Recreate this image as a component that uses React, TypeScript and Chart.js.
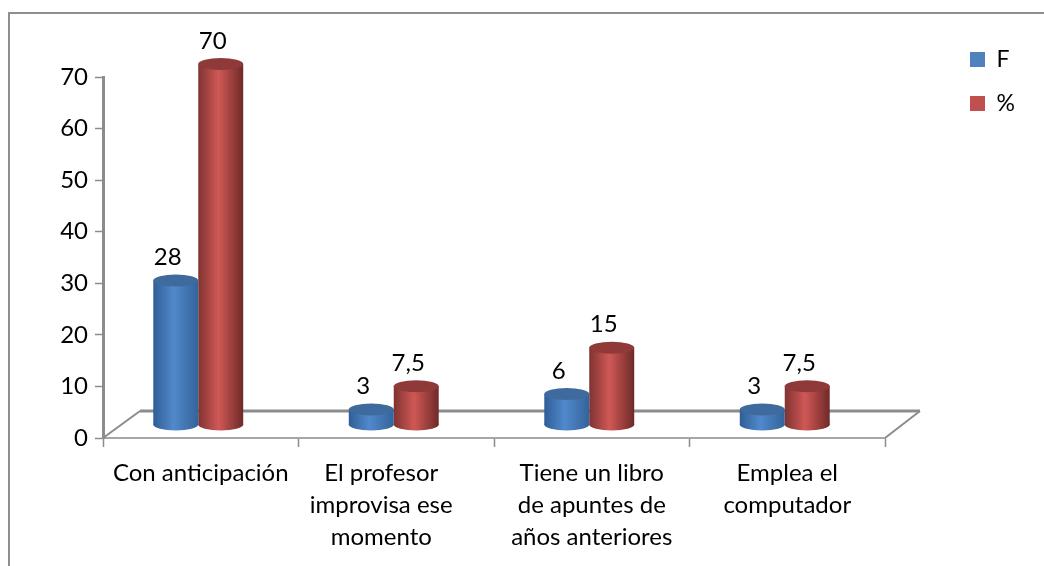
import React, { useEffect, useRef } from "react";
import { Chart, registerables } from "chart.js";

Chart.register(...registerables);

const categories: string[][] = [
  ["Con anticipación"],
  ["El profesor", "improvisa ese", "momento"],
  ["Tiene un libro", "de apuntes de", "años anteriores"],
  ["Emplea el", "computador"],
];
const seriesF: number[] = [28, 3, 6, 3];
const seriesPct: number[] = [70, 7.5, 15, 7.5];
const labelsF: string[] = ["28", "3", "6", "3"];
const labelsPct: string[] = ["70", "7,5", "15", "7,5"];
const yTicks: number[] = [0, 10, 20, 30, 40, 50, 60, 70];

const FONT = "Lato";
const FONT_SIZE = 24;
const LEGEND_FONT_SIZE = 23;
const AXIS = "#8c8c8c";
const PALETTE = [
  { base: "#4f81bd", edgeL: "#2f5e96", mid: "#5189cb", edgeR: "#33639b", cap: "#3f6a9d" },
  { base: "#c0504d", edgeL: "#7f3331", mid: "#d05856", edgeR: "#6e2a28", cap: "#8f3a38" },
];
const BAR_DX = -2.5;
const BAR_DY = -13;
const CAP_RY = 6;

const cylinderPlugin = {
  id: "cylinder",
  beforeLayout(chart: any) {
    const lg = chart.legend;
    if (lg && !lg.__wrapped) {
      const f = lg.fit.bind(lg);
      lg.fit = () => {
        f();
        lg.width = 159;
      };
      lg.__wrapped = true;
    }
  },
  afterLayout(chart: any) {
    const lg = chart.legend;
    const p = lg.options.labels.padding;
    const fs = lg.options.labels.font.size;
    const w = lg.width;
    lg.left = 970 - p;
    lg.right = lg.left + w;
    lg.top = 52 - p - (fs - 15) / 2;
    lg.bottom = 566;
  },
  beforeDraw(chart: any) {
    const { ctx } = chart;
    ctx.save();
    ctx.strokeStyle = "#8e8e8e";
    ctx.lineWidth = 2;
    ctx.beginPath();
    ctx.moveTo(9, 566);
    ctx.lineTo(9, 13);
    ctx.lineTo(1044, 13);
    ctx.stroke();
    ctx.restore();
    const items = chart.scales.x.getLabelItems();
    if (items[1] && !items[1].__moved) {
      items[1].__moved = true;
      items[1].options.translation[0] -= 15;
    }
  },
  beforeDatasetsDraw(chart: any) {
    const { ctx, scales } = chart;
    const x0 = scales.x.left;
    const x1 = scales.x.right;
    const y0 = scales.y.getPixelForValue(0);
    ctx.save();
    ctx.strokeStyle = AXIS;
    ctx.lineWidth = 2;
    ctx.beginPath();
    ctx.moveTo(x0, y0);
    ctx.lineTo(x0 + 37, y0 - 27);
    ctx.moveTo(x1, y0);
    ctx.lineTo(x1 + 35, y0 - 27);
    ctx.stroke();
    ctx.lineWidth = 3;
    ctx.beginPath();
    ctx.moveTo(x0 + 37, y0 - 27);
    ctx.lineTo(x1 + 35, y0 - 27);
    ctx.stroke();
    ctx.restore();
  },
  beforeDatasetDraw(chart: any, args: any) {
    const { ctx } = chart;
    const pal = PALETTE[args.index];
    args.meta.data.forEach((el: any) => {
      const g = ctx.createLinearGradient(el.x - el.width / 2, 0, el.x + el.width / 2, 0);
      g.addColorStop(0, pal.edgeL);
      g.addColorStop(0.45, pal.mid);
      g.addColorStop(1, pal.edgeR);
      el.options = { ...el.options, backgroundColor: g };
    });
    ctx.save();
    ctx.translate(BAR_DX, BAR_DY);
  },
  afterDatasetDraw(chart: any, args: any) {
    const { ctx } = chart;
    const pal = PALETTE[args.index];
    args.meta.data.forEach((el: any) => {
      const rx = el.width / 2;
      ctx.fillStyle = el.options.backgroundColor;
      ctx.beginPath();
      ctx.ellipse(el.x, el.base, rx, CAP_RY, 0, 0, Math.PI * 2);
      ctx.fill();
      ctx.fillStyle = pal.cap;
      ctx.beginPath();
      ctx.ellipse(el.x, el.y, rx, CAP_RY, 0, 0, Math.PI * 2);
      ctx.fill();
    });
    ctx.restore();
  },
  afterDatasetsDraw(chart: any) {
    const { ctx } = chart;
    const text = [labelsF, labelsPct];
    ctx.save();
    ctx.font = `${FONT_SIZE}px ${FONT}`;
    ctx.fillStyle = "#000";
    ctx.textAlign = "center";
    ctx.textBaseline = "middle";
    text.forEach((list, d) => {
      chart.getDatasetMeta(d).data.forEach((el: any, i: number) => {
        ctx.fillText(list[i], el.x + BAR_DX - 8, el.y + BAR_DY - 23);
      });
    });
    ctx.restore();
  },
};

export default function App() {
  const ref = useRef<HTMLCanvasElement>(null);
  useEffect(() => {
    const chart = new Chart(ref.current as HTMLCanvasElement, {
      type: "bar",
      data: {
        labels: categories,
        datasets: [
          { label: "F", data: seriesF, backgroundColor: PALETTE[0].base, clip: false },
          { label: "%", data: seriesPct, backgroundColor: PALETTE[1].base, clip: false },
        ],
      } as any,
      options: {
        animation: false,
        responsive: false,
        layout: { padding: { left: 0, right: 0, top: 77, bottom: 0 } },
        datasets: { bar: { categoryPercentage: 0.46, barPercentage: 1 } },
        plugins: {
          tooltip: { enabled: false },
          title: { display: false },
          legend: {
            position: "right",
            align: "start",
            labels: {
              boxWidth: 15,
              boxHeight: 15,
              padding: 21,
              color: "#000",
              font: { family: FONT, size: LEGEND_FONT_SIZE },
            },
          },
        },
        scales: {
          x: {
            afterFit: (s: any) => {
              s.height = 128;
            },
            border: { color: "#a6a6a6", width: 2 },
            grid: { drawOnChartArea: false, tickLength: 9, color: AXIS, tickWidth: 1.5 },
            ticks: {
              color: "#000",
              padding: 10,
              maxRotation: 0,
              autoSkip: false,
              font: { family: FONT, size: FONT_SIZE, lineHeight: 1.333 },
            },
          },
          y: {
            min: 0,
            max: 70,
            afterFit: (s: any) => {
              s.width = 103;
            },
            afterBuildTicks: (s: any) => {
              s.ticks = yTicks.map((value) => ({ value }));
            },
            border: { color: AXIS, width: 3 },
            grid: { drawOnChartArea: false, tickLength: 8, color: AXIS, tickWidth: 1.5 },
            ticks: {
              color: "#000",
              padding: 7,
              font: { family: FONT, size: FONT_SIZE },
            },
          },
        },
      } as any,
      plugins: [cylinderPlugin],
    });
    return () => chart.destroy();
  }, []);
  return (
    <div style={{ position: "absolute", left: 0, top: 0, width: 1044, height: 566 }}>
      <canvas ref={ref} width={1044} height={566} style={{ display: "block" }} />
    </div>
  );
}
